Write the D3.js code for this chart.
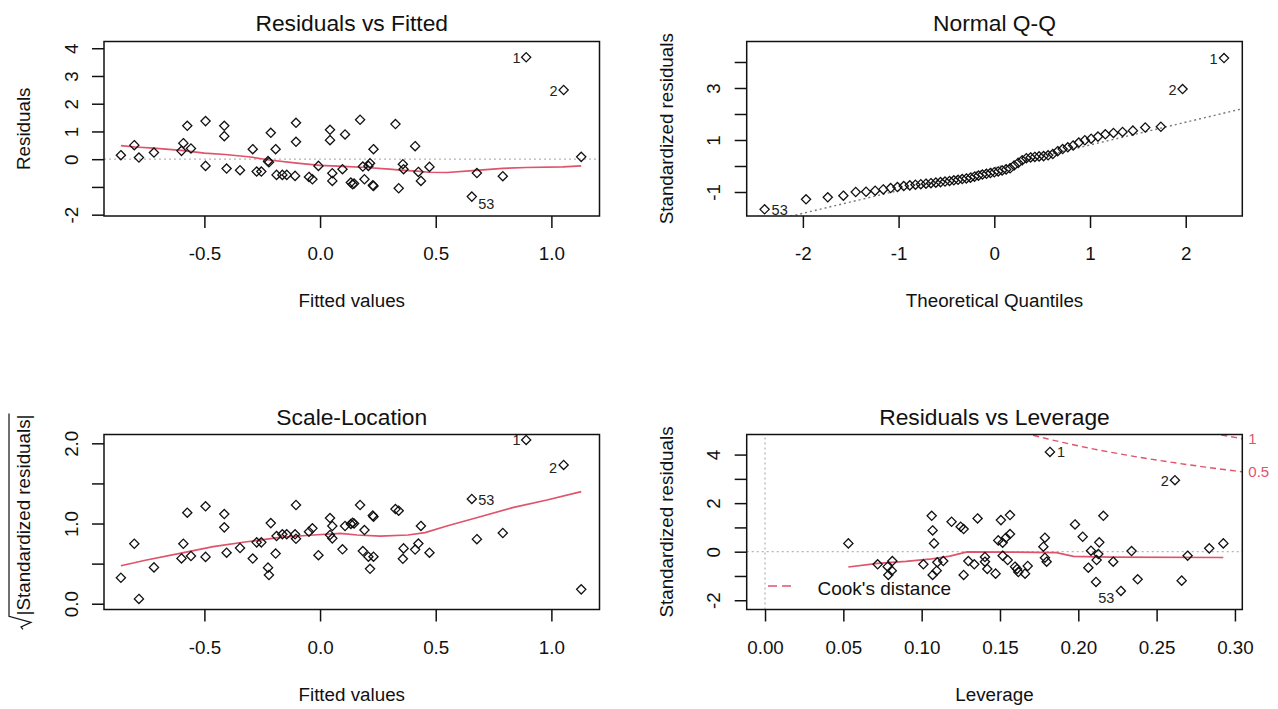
<!DOCTYPE html>
<html>
<head>
<meta charset="utf-8">
<script src="https://cdn.jsdelivr.net/npm/d3@7"></script>
<style>
  html, body { margin: 0; padding: 0; background: #fff; }
  svg { display: block; }
</style>
</head>
<body>
<svg id="chart" width="1278" height="709"></svg>
<script>
// ---- Regression diagnostics: one entry per observation (n = 61) ----
const fittedValues = [-0.861,-0.803,-0.783,-0.718,-0.599,-0.591,-0.574,-0.558,-0.495,-0.495,-0.414,-0.414,-0.404,-0.346,-0.291,-0.274,-0.254,-0.225,-0.221,-0.213,-0.192,-0.188,-0.163,-0.144,-0.108,-0.104,-0.104,-0.048,-0.033,-0.007,0.043,0.043,0.053,0.053,0.097,0.108,0.133,0.141,0.147,0.173,0.185,0.192,0.209,0.216,0.228,0.231,0.231,0.326,0.34,0.358,0.361,0.411,0.425,0.436,0.473,0.656,0.678,0.79,0.891,1.053,1.129];
const residuals = [0.145,0.506,0.06,0.24,0.30,0.578,1.205,0.386,1.373,-0.241,1.205,0.831,-0.337,-0.398,0.361,-0.446,-0.446,-0.07,-0.11,0.952,0.361,-0.566,-0.566,-0.566,-0.602,1.313,0.627,-0.639,-0.723,-0.241,1.06,0.687,-0.506,-0.783,-0.361,0.892,-0.843,-0.904,-0.88,1.422,-0.265,-0.723,-0.241,-0.145,-0.94,-0.964,0.361,1.265,-1.048,-0.181,-0.361,0.47,-0.458,-0.783,-0.277,-1.349,-0.5,-0.614,3.675,2.494,0.084];
const sqrtAbsStdResid = [0.324,0.748,0.06,0.453,0.565,0.748,1.135,0.595,1.215,0.584,1.118,0.952,0.636,0.695,0.563,0.765,0.765,0.45,0.358,1.005,0.625,0.844,0.866,0.866,0.865,1.231,0.81,0.898,0.94,0.605,1.068,0.857,0.815,0.969,0.678,0.969,0.995,1.01,1.0,1.231,0.657,0.919,0.586,0.435,1.1,1.085,0.586,1.18,1.16,0.56,0.69,0.675,0.75,0.97,0.636,1.306,0.805,0.882,2.042,1.73,0.179];

// Normal Q-Q: theoretical quantiles and ordered standardized residuals
const qqTheoretical = [-2.40,-1.967,-1.740,-1.577,-1.448,-1.340,-1.245,-1.160,-1.083,-1.012,-0.946,-0.883,-0.824,-0.768,-0.714,-0.662,-0.611,-0.562,-0.515,-0.468,-0.423,-0.379,-0.335,-0.292,-0.249,-0.207,-0.165,-0.124,-0.082,-0.041,0,0.041,0.082,0.124,0.165,0.207,0.249,0.292,0.335,0.379,0.423,0.468,0.515,0.562,0.611,0.662,0.714,0.768,0.824,0.883,0.946,1.012,1.083,1.160,1.245,1.340,1.448,1.577,1.740,1.967,2.40];
const qqSample = [-1.667,-1.282,-1.205,-1.141,-1.0,-0.99,-0.95,-0.90,-0.85,-0.81,-0.77,-0.745,-0.72,-0.70,-0.68,-0.66,-0.64,-0.62,-0.60,-0.575,-0.55,-0.53,-0.50,-0.48,-0.45,-0.41,-0.37,-0.33,-0.30,-0.27,-0.24,-0.21,-0.17,-0.13,-0.09,0.02,0.12,0.22,0.30,0.33,0.35,0.37,0.38,0.41,0.46,0.57,0.65,0.72,0.79,0.90,0.99,1.05,1.13,1.22,1.27,1.31,1.36,1.48,1.51,2.96,4.15];
const qqLineCoef = [-0.068, 0.876];   // intercept, slope of the quartile line

// Residuals vs Leverage
const leverage = [0.0532,0.0719,0.0783,0.0787,0.0809,0.0813,0.1011,0.1064,0.107,0.107,0.1079,0.1096,0.11,0.1138,0.1191,0.1249,0.1268,0.1268,0.1298,0.1336,0.1357,0.1404,0.1404,0.1419,0.1472,0.1489,0.1506,0.1517,0.1517,0.1538,0.1549,0.1564,0.1564,0.1596,0.1609,0.1617,0.166,0.1677,0.1777,0.1787,0.1787,0.1798,0.1979,0.2028,0.2064,0.2081,0.2113,0.2117,0.2128,0.2134,0.216,0.2223,0.2272,0.234,0.2379,0.2617,0.266,0.2698,0.2836,0.2926,0.1819];
const stdResidLev = [0.342,-0.52,-0.616,-0.959,-0.781,-0.384,-0.52,1.479,0.877,-0.959,0.342,-0.781,-0.438,-0.384,1.233,1.027,0.932,-0.959,-0.384,-0.52,1.37,-0.219,-0.411,-0.712,-0.904,0.466,1.301,0.37,-0.164,0.575,-0.342,1.507,0.726,-0.616,-0.712,-0.836,-0.904,-0.589,0.205,0.575,-0.247,-0.411,1.123,0.616,-0.658,0.041,-1.247,-0.342,-0.096,0.384,1.479,-0.411,-1.616,0.027,-1.137,2.945,-1.192,-0.164,0.137,0.342,4.11];

// Smoothed trend lines
const smoothRFx = [-0.861,-0.80,-0.72,-0.60,-0.50,-0.41,-0.30,-0.22,-0.10,0.0,0.10,0.20,0.30,0.36,0.42,0.47,0.55,0.66,0.79,0.89,1.05,1.129];
const smoothRFy = [0.49,0.44,0.40,0.32,0.22,0.17,0.08,-0.03,-0.14,-0.22,-0.26,-0.30,-0.36,-0.40,-0.43,-0.47,-0.48,-0.41,-0.33,-0.30,-0.28,-0.24];
const smoothSLx = [-0.861,-0.75,-0.606,-0.462,-0.317,-0.173,-0.029,0.087,0.16,0.26,0.38,0.454,0.548,0.692,0.837,0.981,1.129];
const smoothSLy = [0.474,0.545,0.628,0.711,0.773,0.827,0.857,0.877,0.857,0.844,0.857,0.886,0.969,1.085,1.202,1.293,1.397];
const smoothLVx = [0.0532,0.072,0.09,0.105,0.118,0.129,0.16,0.186,0.197,0.22,0.2926];
const smoothLVy = [-0.63,-0.48,-0.40,-0.31,-0.18,-0.01,-0.02,-0.04,-0.19,-0.22,-0.24];

// Cook's distance contours (D = 0.5 and D = 1)
const cook05H = [0.165,0.17,0.18,0.19,0.20,0.21,0.22,0.23,0.24,0.25,0.26,0.27,0.28,0.29,0.30,0.3047];
const cook05R = [4.903,4.816,4.652,4.50,4.359,4.227,4.104,3.988,3.878,3.775,3.677,3.584,3.495,3.410,3.329,3.29];
const cook1H = [0.285,0.29,0.295,0.30,0.3047];
const cook1R = [4.882,4.823,4.765,4.708,4.653];
const cookLevels = ["0.5", "1"];

// Labelled observations
const idNames = ["1", "2", "53"];
const rfIdIndex = [58, 59, 55];
const qqIdIndex = [60, 59, 0];
const lvIdIndex = [60, 55, 52];

// ---- Drawing ----
const FONT = '"Liberation Sans", Arial, Helvetica, sans-serif';
const INK = "#111";
const RED = "#DF536B";
const BASE = 18.8, MAIN = 22.8, SMALL = 14.5;
const svg = d3.select("#chart").attr("font-family", FONT);

const diamond = "M0,-4.6L4.6,0L0,4.6L-4.6,0Z";

function makePanel(o) {
  const x = d3.scaleLinear().domain(o.xDomain).range([o.left, o.right]);
  const y = d3.scaleLinear().domain(o.yDomain).range([o.bottom, o.top]);
  const g = svg.append("g");
  const clipId = "clip-" + o.key;
  g.append("clipPath").attr("id", clipId).append("rect")
    .attr("x", o.left).attr("y", o.top)
    .attr("width", o.right - o.left).attr("height", o.bottom - o.top);
  const plot = g.append("g").attr("clip-path", `url(#${clipId})`);
  const marks = g.append("g");

  // x axis
  const xa = g.append("g").attr("transform", `translate(0,${o.bottom})`)
    .call(d3.axisBottom(x).tickValues(o.xTicks)
      .tickFormat((d, i) => o.xTickLabels[i]).tickSize(12).tickSizeOuter(0));
  xa.select(".domain").remove();
  xa.attr("font-family", FONT).attr("font-size", BASE).attr("color", INK);
  xa.selectAll(".tick line").attr("stroke-width", 1.5);
  xa.selectAll("text").attr("y", o.xLabelBase - o.bottom).attr("dy", "0");

  // y axis, labels parallel to the axis
  const ya = g.append("g").attr("transform", `translate(${o.left},0)`)
    .call(d3.axisLeft(y).tickValues(o.yTicks)
      .tickFormat((d, i) => o.yTickLabels[i]).tickSize(12).tickSizeOuter(0));
  ya.select(".domain").remove();
  ya.attr("font-family", FONT).attr("font-size", BASE).attr("color", INK);
  ya.selectAll(".tick line").attr("stroke-width", 1.5);
  ya.selectAll("text")
    .attr("x", 0).attr("y", o.yLabelBase - o.left).attr("dy", "0")
    .attr("text-anchor", "middle").attr("transform", "rotate(-90)");

  // frame
  g.append("rect")
    .attr("x", o.left).attr("y", o.top)
    .attr("width", o.right - o.left).attr("height", o.bottom - o.top)
    .attr("fill", "none").attr("stroke", INK).attr("stroke-width", 1.5);

  // titles
  const cx = (o.left + o.right) / 2, cy = (o.top + o.bottom) / 2;
  g.append("text").attr("x", cx).attr("y", o.titleBase)
    .attr("text-anchor", "middle").attr("font-size", MAIN).attr("fill", INK)
    .text(o.title);
  g.append("text").attr("x", cx).attr("y", o.xTitleBase)
    .attr("text-anchor", "middle").attr("font-size", BASE).attr("fill", INK)
    .text(o.xTitle);
  if (o.yTitle) {
    g.append("text")
      .attr("transform", `translate(${o.yTitleBase},${cy}) rotate(-90)`)
      .attr("text-anchor", "middle").attr("font-size", BASE).attr("fill", INK)
      .text(o.yTitle);
  }
  return { x, y, g, plot, marks, cx, cy };
}

function dottedH(p, value, color) {
  const [a, b] = p.x.range();
  p.plot.append("line").attr("x1", a).attr("x2", b)
    .attr("y1", p.y(value)).attr("y2", p.y(value))
    .attr("stroke", color).attr("stroke-width", 1.3).attr("stroke-dasharray", "2,3");
}
function dottedV(p, value, color) {
  const [a, b] = p.y.range();
  p.plot.append("line").attr("y1", a).attr("y2", b)
    .attr("x1", p.x(value)).attr("x2", p.x(value))
    .attr("stroke", color).attr("stroke-width", 1.3).attr("stroke-dasharray", "2,3");
}
function smoothLine(p, xs, ys) {
  const pts = xs.map((v, i) => [v, ys[i]]);
  p.plot.append("path")
    .attr("d", d3.line().x(d => p.x(d[0])).y(d => p.y(d[1]))(pts))
    .attr("fill", "none").attr("stroke", RED).attr("stroke-width", 1.7);
}
function points(p, xs, ys) {
  p.marks.selectAll(null).data(xs.map((v, i) => [v, ys[i]])).enter()
    .append("path").attr("d", diamond)
    .attr("transform", d => `translate(${p.x(d[0])},${p.y(d[1])})`)
    .attr("fill", "none").attr("stroke", "#111").attr("stroke-width", 1.3);
}
function idLabels(p, xs, ys, idx, place) {
  idx.forEach((k, j) => {
    const [dx, dy, anchor] = place[j];
    p.marks.append("text")
      .attr("x", p.x(xs[k]) + dx).attr("y", p.y(ys[k]) + dy)
      .attr("text-anchor", anchor).attr("font-size", SMALL).attr("fill", "#222")
      .text(idNames[j]);
  });
}

// 1. Residuals vs Fitted
const p1 = makePanel({
  key: "rf", left: 104, right: 599.5, top: 41.5, bottom: 216,
  xDomain: [-0.934, 1.208], yDomain: [-2.048, 4.243],
  xTicks: [-0.5, 0, 0.5, 1], xTickLabels: ["-0.5", "0.0", "0.5", "1.0"],
  yTicks: [-2, -1, 0, 1, 2, 3, 4], yTickLabels: ["-2", "", "0", "1", "2", "3", "4"],
  title: "Residuals vs Fitted", xTitle: "Fitted values", yTitle: "Residuals",
  titleBase: 31, xLabelBase: 260, xTitleBase: 307, yLabelBase: 77.5, yTitleBase: 30
});
dottedH(p1, 0, "#b5b5b5");
points(p1, fittedValues, residuals);
smoothLine(p1, smoothRFx, smoothRFy);
idLabels(p1, fittedValues, residuals, rfIdIndex,
  [[-5.5, 5.5, "end"], [-6, 5.5, "end"], [6.5, 12.5, "start"]]);

// 2. Normal Q-Q
const p2 = makePanel({
  key: "qq", left: 746.7, right: 1242.3, top: 41.5, bottom: 216,
  xDomain: [-2.587, 2.591], yDomain: [-1.923, 4.788],
  xTicks: [-2, -1, 0, 1, 2], xTickLabels: ["-2", "-1", "0", "1", "2"],
  yTicks: [-1, 0, 1, 2, 3, 4], yTickLabels: ["-1", "", "1", "", "3", ""],
  title: "Normal Q-Q", xTitle: "Theoretical Quantiles", yTitle: "Standardized residuals",
  titleBase: 31, xLabelBase: 260, xTitleBase: 307, yLabelBase: 720.2, yTitleBase: 673
});
{
  const [x0, x1] = p2.x.domain();
  const [b0, b1] = qqLineCoef;
  p2.plot.append("line")
    .attr("x1", p2.x(x0)).attr("y1", p2.y(b0 + b1 * x0))
    .attr("x2", p2.x(x1)).attr("y2", p2.y(b0 + b1 * x1))
    .attr("stroke", "#777").attr("stroke-width", 1.4).attr("stroke-dasharray", "2,3");
}
points(p2, qqTheoretical, qqSample);
idLabels(p2, qqTheoretical, qqSample, qqIdIndex,
  [[-6.5, 5.5, "end"], [-6, 5.5, "end"], [7, 5.5, "start"]]);

// 3. Scale-Location
const p3 = makePanel({
  key: "sl", left: 104, right: 599.5, top: 434.5, bottom: 609.5,
  xDomain: [-0.934, 1.208], yDomain: [-0.072, 2.11],
  xTicks: [-0.5, 0, 0.5, 1], xTickLabels: ["-0.5", "0.0", "0.5", "1.0"],
  yTicks: [0, 0.5, 1, 1.5, 2], yTickLabels: ["0.0", "", "1.0", "", "2.0"],
  title: "Scale-Location", xTitle: "Fitted values", yTitle: null,
  titleBase: 424.5, xLabelBase: 653.5, xTitleBase: 700.5, yLabelBase: 77.5, yTitleBase: 30
});
{
  // y title: square root of |Standardized residuals|
  const g = svg.append("g").attr("transform", `translate(30,${p3.cy}) rotate(-90)`);
  const t = g.append("text").attr("font-size", BASE).attr("fill", INK)
    .text("|Standardized residuals|");
  const len = t.node().getComputedTextLength();
  const rad = 14;
  const s = -(len + rad) / 2;
  t.attr("x", s + rad).attr("y", 0);
  const top = -21;
  g.append("path")
    .attr("d", `M${s},-7 L${s + 2.5},-9 L${s + 7},1 L${s + rad - 1},${top} L${s + rad + len + 1},${top}`)
    .attr("fill", "none").attr("stroke", INK).attr("stroke-width", 1.2);
}
points(p3, fittedValues, sqrtAbsStdResid);
smoothLine(p3, smoothSLx, smoothSLy);
idLabels(p3, fittedValues, sqrtAbsStdResid, rfIdIndex,
  [[-5.5, 5.5, "end"], [-6.5, 8, "end"], [6.5, 6.5, "start"]]);

// 4. Residuals vs Leverage
const p4 = makePanel({
  key: "lv", left: 746.7, right: 1242.3, top: 434.5, bottom: 609.5,
  xDomain: [-0.0117, 0.3047], yDomain: [-2.381, 4.827],
  xTicks: [0, 0.05, 0.1, 0.15, 0.2, 0.25, 0.3],
  xTickLabels: ["0.00", "0.05", "0.10", "0.15", "0.20", "0.25", "0.30"],
  yTicks: [-2, -1, 0, 1, 2, 3, 4], yTickLabels: ["-2", "", "0", "", "2", "", "4"],
  title: "Residuals vs Leverage", xTitle: "Leverage", yTitle: "Standardized residuals",
  titleBase: 424.5, xLabelBase: 653.5, xTitleBase: 700.5, yLabelBase: 720.2, yTitleBase: 673
});
dottedH(p4, 0, "#b5b5b5");
dottedV(p4, 0, "#b5b5b5");
points(p4, leverage, stdResidLev);
smoothLine(p4, smoothLVx, smoothLVy);
[[cook05H, cook05R], [cook1H, cook1R]].forEach(([hs, rs], i) => {
  const pts = hs.map((h, j) => [h, rs[j]]);
  p4.plot.append("path")
    .attr("d", d3.line().x(d => p4.x(d[0])).y(d => p4.y(d[1]))(pts))
    .attr("fill", "none").attr("stroke", RED).attr("stroke-width", 1.4)
    .attr("stroke-dasharray", "6,4");
  p4.g.append("text")
    .attr("x", p4.x(hs[hs.length - 1]) + 6).attr("y", p4.y(rs[rs.length - 1]) + 5)
    .attr("font-size", 15).attr("fill", RED).text(cookLevels[i]);
});
idLabels(p4, leverage, stdResidLev, lvIdIndex,
  [[7, 5.5, "start"], [-6, 5.5, "end"], [-6.5, 12.5, "end"]]);
// legend
p4.g.append("line").attr("x1", 768).attr("x2", 796).attr("y1", 586).attr("y2", 586)
  .attr("stroke", RED).attr("stroke-width", 1.4).attr("stroke-dasharray", "9,5");
p4.g.append("text").attr("x", 817.5).attr("y", 595)
  .attr("font-size", 19).attr("fill", INK).text("Cook's distance");
</script>
</body>
</html>
